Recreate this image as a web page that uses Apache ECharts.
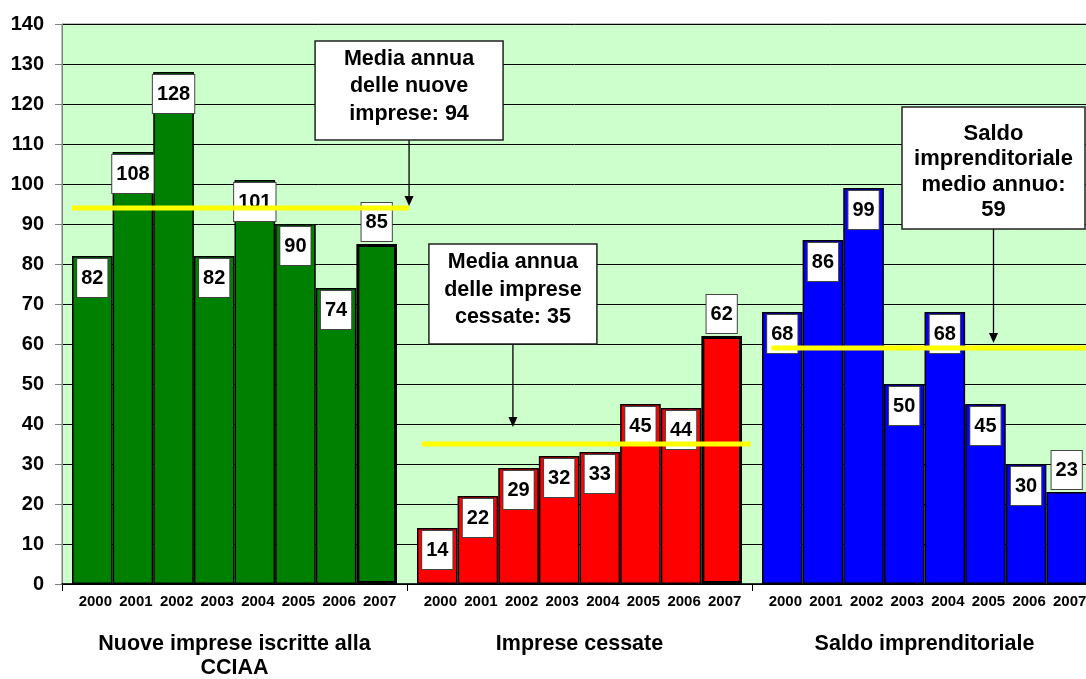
<!DOCTYPE html>
<html>
<head>
<meta charset="utf-8">
<script src="https://cdn.jsdelivr.net/npm/echarts@6/dist/echarts.min.js"></script>
<style>
  html, body { margin: 0; padding: 0; background: #ffffff; }
  #chart { width: 1086px; height: 679px; }
</style>
</head>
<body>
<div id="chart"></div>
<script>
// Anni e gruppi
const years = ['2000', '2001', '2002', '2003', '2004', '2005', '2006', '2007'];
const groups = ['Nuove imprese iscritte alla\nCCIAA', 'Imprese cessate', 'Saldo imprenditoriale'];

// Valori per gruppo
const nuove   = [82, 108, 128, 82, 101, 90, 74, 85];
const cessate = [14, 22, 29, 32, 33, 45, 44, 62];
const saldo   = [68, 86, 99, 50, 68, 45, 30, 23];

// Medie annue
const medie = [94, 35, 59];

// Scala verticale
const yMin = 0, yMax = 140, yStep = 10;

const FONT = '"Liberation Sans", Arial, Helvetica, sans-serif';
const groupColors = ['#008000', '#FF0000', '#0000FF'];
const GAP = 20 / 345;               // spazio tra i gruppi, in frazione della categoria
const values = [nuove, cessate, saldo];

const chart = echarts.init(document.getElementById('chart'), null, { renderer: 'canvas' });

// Una serie per anno: ogni serie ha una barra in ciascun gruppo
const barSeries = years.map((yr, j) => ({
  type: 'bar',
  name: yr,
  xAxisIndex: 0,
  yAxisIndex: 0,
  barGap: '0%',
  barCategoryGap: (GAP * 100).toFixed(3) + '%',
  z: 2,
  label: {
    show: true,
    distance: 3,
    color: '#000',
    fontFamily: FONT,
    fontWeight: 'bold',
    fontSize: 20,
    lineHeight: 20,
    backgroundColor: '#ffffff',
    borderColor: '#444444',
    borderWidth: 1,
    padding: [9, 4, 9, 4]
  },
  data: values.map((arr, g) => ({
    value: arr[j],
    itemStyle: {
      color: groupColors[g],
      borderColor: '#000',
      borderWidth: (j === years.length - 1 && g < 2) ? 3 : 1.5
    },
    label: { position: j === years.length - 1 ? 'top' : 'insideTop' }
  }))
}));

// Linee gialle delle medie (asse x di servizio in unità di gruppo)
const spans = [[0.029, 1.006], [1.043, 1.996], [2.056, 3.0]];
const meanSeries = medie.map((m, g) => ({
  type: 'line',
  xAxisIndex: 1,
  yAxisIndex: 0,
  silent: true,
  symbol: 'none',
  z: 5,
  lineStyle: { color: '#FFFF00', width: 5 },
  data: [[spans[g][0], m], [spans[g][1], m]]
}));

// Etichette degli anni sotto ogni barra
const yearSeries = {
  type: 'custom',
  xAxisIndex: 0,
  yAxisIndex: 0,
  silent: true,
  clip: false,
  data: groups.flatMap((_, g) => years.map((_, j) => [g, j])),
  renderItem(params, api) {
    const g = api.value(0), j = api.value(1);
    const base = api.coord([g, 0]);
    const catW = api.size([1, 0])[0];
    const barW = catW * (1 - GAP) / years.length;
    return {
      type: 'text',
      style: {
        text: years[j],
        x: base[0] + (j - (years.length - 1) / 2) * barW + 3,
        y: base[1] + 18,
        align: 'center',
        verticalAlign: 'middle',
        font: 'bold 15px ' + FONT,
        fill: '#000'
      }
    };
  }
};

chart.setOption({
  animation: false,
  backgroundColor: '#ffffff',
  grid: {
    left: 62, top: 24, width: 1035, height: 560,
    outerBoundsMode: 'none',
    containLabel: false,
    show: true, backgroundColor: '#CCFFCC', borderColor: '#808080', borderWidth: 1
  },
  xAxis: [
    {
      type: 'category',
      data: groups,
      axisLine: { lineStyle: { color: '#000', width: 1.5 } },
      axisTick: { show: true, length: 7, lineStyle: { color: '#000' } },
      axisLabel: {
        interval: 0, margin: 48, color: '#000',
        fontFamily: FONT, fontWeight: 'bold', fontSize: 21.5, lineHeight: 24
      },
      splitLine: { show: false }
    },
    { type: 'value', min: 0, max: 3, show: false }
  ],
  yAxis: {
    type: 'value', min: yMin, max: yMax, interval: yStep,
    axisLine: { show: true, lineStyle: { color: '#808080', width: 1 } },
    axisTick: { show: true, length: 7, lineStyle: { color: '#808080' } },
    axisLabel: { margin: 18, color: '#000', fontFamily: FONT, fontWeight: 'bold', fontSize: 20 },
    splitLine: { show: true, lineStyle: { color: '#000', width: 1 } }
  },
  series: [...barSeries, ...meanSeries, yearSeries]
});

// Riquadri di commento con freccia verso la linea della media
const notes = [
  { text: 'Media annua\ndelle nuove\nimprese: ' + medie[0], at: 1.006, top: 135.75, bottom: 111, tip: 94.5,
    width: 188, fontSize: 21.5, lineHeight: 27.5, dy: -4 },
  { text: 'Media annua\ndelle imprese\ncessate: ' + medie[1], at: 1.307, top: 85, bottom: 60, tip: 39.25,
    width: 168, fontSize: 21.5, lineHeight: 27.5, dy: -4 },
  { text: 'Saldo\nimprenditoriale\nmedio annuo:\n' + medie[2], at: 2.70, top: 119.25, bottom: 88.75, tip: 60.25,
    width: 183, fontSize: 22, lineHeight: 25.5, dy: 4 }
];

const els = [];
notes.forEach(n => {
  const [cx, yTop] = chart.convertToPixel({ xAxisIndex: 1, yAxisIndex: 0 }, [n.at, n.top]);
  const yBot = chart.convertToPixel({ yAxisIndex: 0 }, n.bottom);
  const yTip = chart.convertToPixel({ yAxisIndex: 0 }, n.tip);
  els.push({
    type: 'line', z: 10, silent: true,
    shape: { x1: cx, y1: yBot, x2: cx, y2: yTip - 8 },
    style: { stroke: '#000', lineWidth: 1.3 }
  });
  els.push({
    type: 'polygon', z: 10, silent: true,
    shape: { points: [[cx - 4.5, yTip - 10], [cx + 4.5, yTip - 10], [cx, yTip]] },
    style: { fill: '#000' }
  });
  els.push({
    type: 'rect', z: 10, silent: true,
    shape: { x: cx - n.width / 2, y: yTop, width: n.width, height: yBot - yTop },
    style: { fill: '#ffffff', stroke: '#222', lineWidth: 1.5 }
  });
  els.push({
    type: 'text', z: 11, silent: true,
    x: cx, y: (yTop + yBot) / 2 + n.dy,
    style: {
      text: n.text, align: 'center', verticalAlign: 'middle',
      font: 'bold ' + n.fontSize + 'px ' + FONT, lineHeight: n.lineHeight, fill: '#000'
    }
  });
});
chart.setOption({ graphic: els });
</script>
</body>
</html>
